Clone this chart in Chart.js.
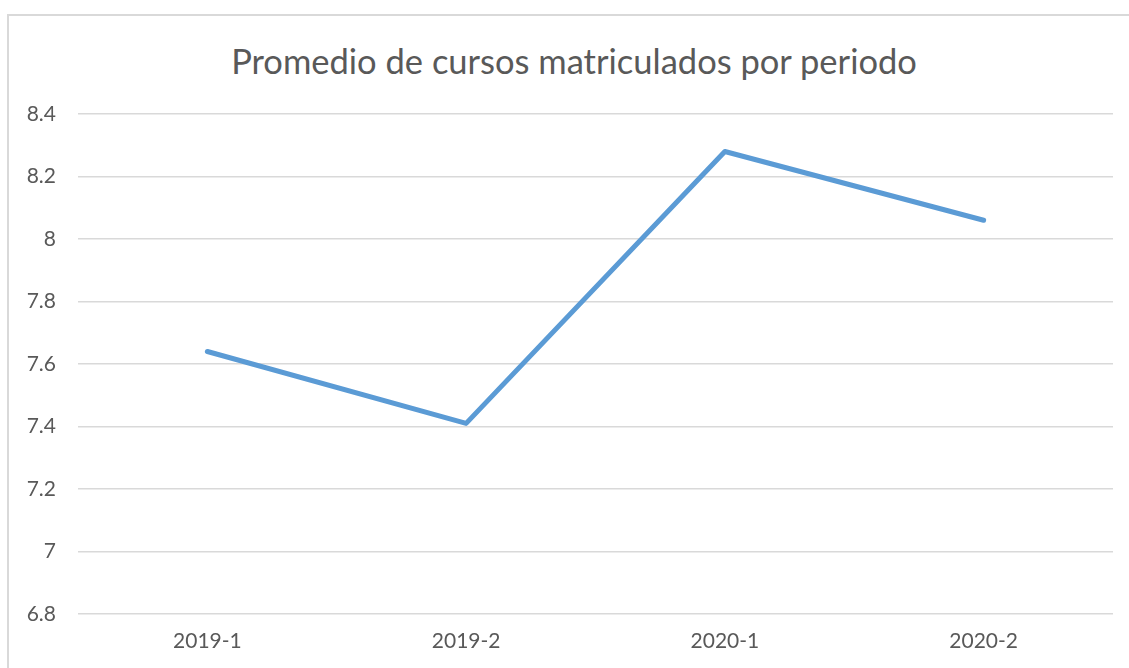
<!DOCTYPE html>
<html lang="es">
<head>
    <meta charset="UTF-8">
    <title>Promedio de cursos matriculados por periodo</title>
    <script src="https://cdn.jsdelivr.net/npm/chart.js"></script>
    <style>
        body {
            margin: 0;
            background: #fff;
            overflow: hidden;
            font-family: Lato, "Open Sans", sans-serif;
        }
        #frame {
            position: absolute;
            left: 7px;
            top: 14px;
            width: 1140px;
            height: 670px;
            border: 2px solid #d9d9d9;
        }
        #chart-title {
            position: absolute;
            left: 8px;
            width: 1132px;
            top: 40px;
            margin: 0;
            text-align: center;
            font-size: 34.5px;
            font-weight: normal;
            line-height: 42px;
            color: #595959;
        }
        #chart-container {
            position: absolute;
            left: 0;
            top: 0;
            width: 1129px;
            height: 668px;
        }
    </style>
</head>
<body>
    <div id="frame"></div>
    <h1 id="chart-title">Promedio de cursos matriculados por periodo</h1>
    <div id="chart-container">
        <canvas id="avgChart"></canvas>
    </div>

    <script>
        const periods = ['2019-1', '2019-2', '2020-1', '2020-2'];
        const avgCourses = [7.64, 7.41, 8.28, 8.06];
        const yMin = 6.8;
        const yMax = 8.4;
        const yStep = 0.2;

        const textColor = '#595959';
        const gridColor = '#d9d9d9';
        const fontFamily = 'Lato, "Open Sans", sans-serif';

        const ctx = document.getElementById('avgChart').getContext('2d');

        new Chart(ctx, {
            type: 'line',
            data: {
                labels: periods,
                datasets: [{
                    label: 'Promedio',
                    data: avgCourses,
                    borderColor: '#5b9bd5',
                    backgroundColor: '#5b9bd5',
                    borderWidth: 5,
                    borderCapStyle: 'round',
                    borderJoinStyle: 'round',
                    pointRadius: 0,
                    tension: 0
                }]
            },
            options: {
                responsive: true,
                maintainAspectRatio: false,
                animation: false,
                layout: {
                    padding: { left: 0, right: 16, top: 114, bottom: 0 }
                },
                plugins: {
                    legend: { display: false },
                    tooltip: { enabled: false },
                    title: { display: false }
                },
                scales: {
                    x: {
                        offset: true,
                        grid: { display: false },
                        border: { display: false },
                        ticks: {
                            color: textColor,
                            font: { family: fontFamily, size: 21 },
                            padding: 7
                        },
                        afterFit: function(scale) {
                            scale.height = 54;
                        }
                    },
                    y: {
                        min: yMin,
                        max: yMax,
                        border: { display: false },
                        grid: {
                            color: gridColor,
                            lineWidth: 1.5,
                            drawTicks: false
                        },
                        ticks: {
                            stepSize: yStep,
                            color: textColor,
                            font: { family: fontFamily, size: 21 },
                            padding: 22,
                            callback: function(value) {
                                return String(Number(value.toFixed(1)));
                            }
                        },
                        afterFit: function(scale) {
                            scale.width = 78;
                        }
                    }
                }
            }
        });
    </script>
</body>
</html>
